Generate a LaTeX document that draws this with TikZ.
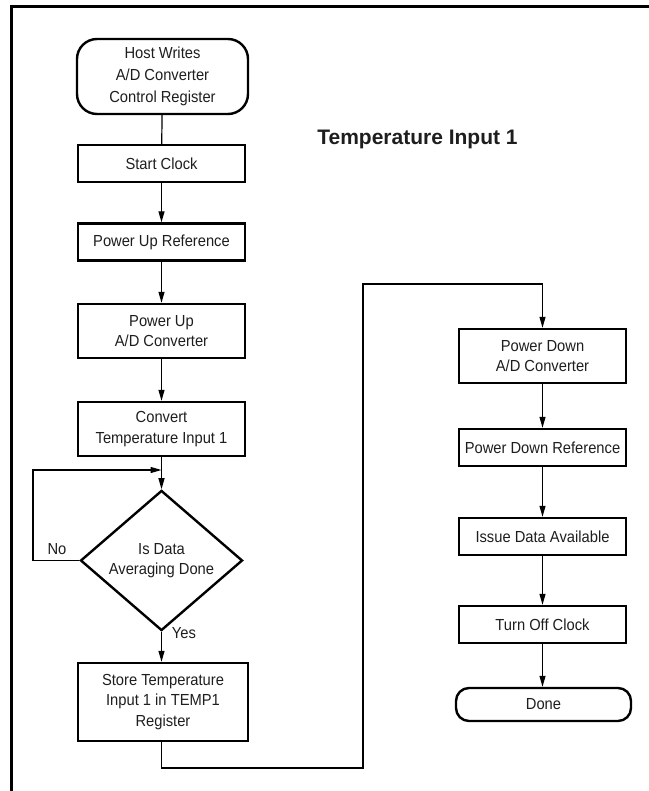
\documentclass[tikz,border=0pt]{standalone}
\usepackage{fontspec}
\setmainfont{Liberation Sans}[FakeStretch=0.92]
\newfontfamily\titlefont{Liberation Sans}
\usetikzlibrary{arrows.meta,shapes.geometric}
\definecolor{ink}{RGB}{30,30,30}
\begin{document}
\begin{tikzpicture}[x=1pt,y=-1pt,
  every node/.style={font=\fontsize{16}{20.5}\selectfont, text=ink},
  box/.style={draw, line width=2.4pt, rectangle, minimum width=167pt, align=center, inner sep=0pt},
  term/.style={draw, line width=2.4pt, rectangle, align=center, inner sep=0pt},
  decide/.style={draw, line width=2.4pt, diamond, minimum width=162pt, minimum height=115pt, align=center, inner sep=0pt},
  link/.style={line width=1.2pt},
  arrow/.style={line width=1.2pt, -{Triangle[length=11pt,width=6pt]}},
  lbl/.style={inner sep=0pt}
]
\useasboundingbox (0,0) rectangle (648,791);
% partial frame
\coordinate (fa) at (11.3,795);
\coordinate (fb) at (11.3,6.7);
\coordinate (fc) at (652,6.7);
\draw[line width=3pt] (fa) -- (fb) -- (fc);

% title
\node[lbl, font=\titlefont\fontsize{21}{24}\selectfont\bfseries] (title) at (417.5,139) {Temperature Input 1};

% left column
\node[term, rounded corners=20pt, minimum width=171pt, minimum height=75pt,
      font=\fontsize{16}{22}\selectfont] (host) at (162.5,76.5) {Host Writes\\A/D Converter\\Control Register};
\node[box, minimum height=37pt] (clk) at (161.5,163.5) {Start Clock};
\node[box, minimum height=37pt] (pur) at (161.5,242) {Power Up Reference};
\node[box, minimum height=54pt] (puad) at (161.5,331) {Power Up\\A/D Converter};
\node[box, minimum height=54pt] (conv) at (161.5,429) {Convert\\Temperature Input 1};
\node[decide] (dia) at (161.5,560.5) {Is Data\\Averaging Done};
\node[box, minimum width=170pt, minimum height=78pt] (store) at (163,702) {Store Temperature\\Input 1 in TEMP1\\Register};

% right column
\node[box, minimum height=54pt] (pdad) at (542.5,356) {Power Down\\A/D Converter};
\node[box, minimum height=37pt] (pdr) at (542.5,447.5) {Power Down Reference};
\node[box, minimum height=37pt] (iss) at (542.5,536.5) {Issue Data Available};
\node[box, minimum height=37pt] (off) at (542.5,624.5) {Turn Off Clock};
\node[term, rounded corners=13pt, minimum width=175pt, minimum height=33pt] (done) at (543.5,704.5) {Done};

% labels
\node[lbl] (no) at (57,549) {No};
\node[lbl] (yes) at (184,633) {Yes};

% connectors
\draw[link] (host) -- (clk);
\draw[arrow] (clk) -- (pur);
\draw[arrow] (pur) -- (puad);
\draw[arrow] (puad) -- (conv);
\draw[arrow] (conv) -- (dia);
\coordinate (lp1) at (33,560.5);
\coordinate (lpj) at (161.5,470);
\draw[arrow] (dia.west) -- (lp1) |- (lpj);
\draw[arrow] (dia.south) -- (store.north -| dia.south);
\coordinate (b1) at (363,768);
\coordinate (b2) at (363,284);
\draw[arrow] (store.south -| dia.south) |- (b1) -- (b2) -| (pdad.north);
\draw[arrow] (pdad) -- (pdr);
\draw[arrow] (pdr) -- (iss);
\draw[arrow] (iss) -- (off);
\draw[arrow] (off.south) -- (done.north -| off.south);
\end{tikzpicture}
\end{document}
